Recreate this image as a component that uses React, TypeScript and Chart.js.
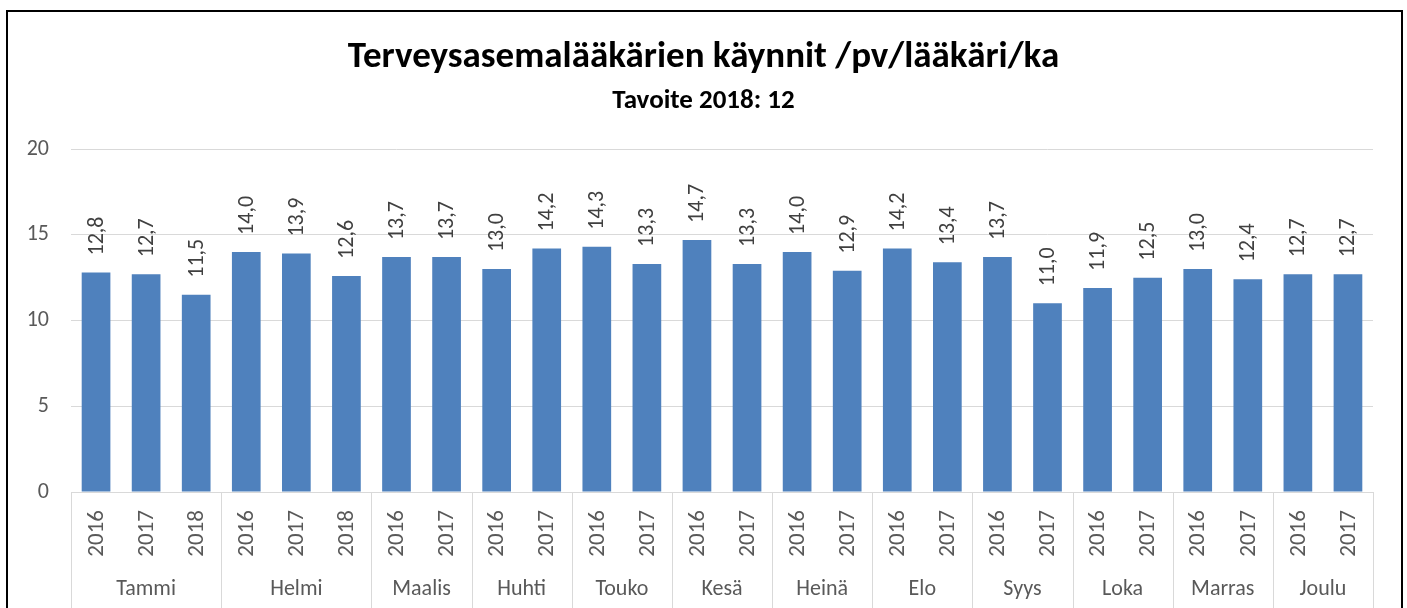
import React, { useEffect, useRef } from 'react';
import { Chart, registerables } from 'chart.js';

Chart.register(...registerables);

const titleText = 'Terveysasemalääkärien käynnit /pv/lääkäri/ka';
const subtitleText = 'Tavoite 2018: 12';
const months = ['Tammi', 'Helmi', 'Maalis', 'Huhti', 'Touko', 'Kesä', 'Heinä', 'Elo', 'Syys', 'Loka', 'Marras', 'Joulu'];
const yearsPerMonth = [
  ['2016', '2017', '2018'],
  ['2016', '2017', '2018'],
  ['2016', '2017'],
  ['2016', '2017'],
  ['2016', '2017'],
  ['2016', '2017'],
  ['2016', '2017'],
  ['2016', '2017'],
  ['2016', '2017'],
  ['2016', '2017'],
  ['2016', '2017'],
  ['2016', '2017'],
];
const values = [
  12.8, 12.7, 11.5,
  14.0, 13.9, 12.6,
  13.7, 13.7,
  13.0, 14.2,
  14.3, 13.3,
  14.7, 13.3,
  14.0, 12.9,
  14.2, 13.4,
  13.7, 11.0,
  11.9, 12.5,
  13.0, 12.4,
  12.7, 12.7,
];
const yMin = 0;
const yMax = 20;
const yStep = 5;

const FONT = "Carlito, Calibri, Lato, 'Open Sans', sans-serif";
const BAR = '#4f81bd';
const GRID = '#d9d9d9';
const TEXT = '#595959';
const LABEL = '#404040';

const W = 1407;
const H = 608;

const fmt = (v: number) => v.toFixed(1).replace('.', ',');

const decorPlugin = {
  id: 'decor',
  beforeDraw(chart: any) {
    const ctx = chart.ctx;
    ctx.save();
    ctx.fillStyle = '#ffffff';
    ctx.fillRect(0, 0, chart.width, chart.height);
    ctx.restore();
  },
  afterDraw(chart: any) {
    const ctx = chart.ctx;
    const area = chart.chartArea;
    const x = chart.scales.x;
    ctx.save();

    // frame
    ctx.strokeStyle = '#000000';
    ctx.lineWidth = 2;
    ctx.strokeRect(7, 11, 1395, 700);

    // titles
    ctx.fillStyle = '#000000';
    ctx.textAlign = 'center';
    ctx.textBaseline = 'alphabetic';
    ctx.font = `bold 37px ${FONT}`;
    ctx.fillText(titleText, W / 2, 67);
    ctx.font = `bold 27px ${FONT}`;
    ctx.fillText(subtitleText, W / 2, 108);

    // separators and labels on the category axis
    const labels: string[] = chart.data.labels;
    ctx.strokeStyle = GRID;
    ctx.lineWidth = 1;
    let idx = 0;
    const bounds: number[] = [idx];
    yearsPerMonth.forEach((g) => {
      idx += g.length;
      bounds.push(idx);
    });
    bounds.forEach((b) => {
      const px = Math.round(x.getPixelForValue(b - 0.5)) + 0.5;
      ctx.beginPath();
      ctx.moveTo(px, area.bottom);
      ctx.lineTo(px, H);
      ctx.stroke();
    });

    ctx.fillStyle = TEXT;
    ctx.font = `23px ${FONT}`;
    labels.forEach((lab, i) => {
      const px = x.getPixelForValue(i);
      ctx.save();
      ctx.translate(px, area.bottom + 18);
      ctx.rotate(-Math.PI / 2);
      ctx.textAlign = 'right';
      ctx.textBaseline = 'middle';
      ctx.fillText(lab, 0, 1);
      ctx.restore();
    });

    ctx.font = `22px ${FONT}`;
    ctx.textAlign = 'center';
    ctx.textBaseline = 'middle';
    months.forEach((m, gi) => {
      const cx = (x.getPixelForValue(bounds[gi] - 0.5) + x.getPixelForValue(bounds[gi + 1] - 0.5)) / 2;
      ctx.fillText(m, cx, 589);
    });

    // data labels
    const meta = chart.getDatasetMeta(0);
    ctx.fillStyle = LABEL;
    ctx.font = `22px ${FONT}`;
    meta.data.forEach((el: any, i: number) => {
      ctx.save();
      ctx.translate(el.x, el.y - 17);
      ctx.rotate(-Math.PI / 2);
      ctx.textAlign = 'left';
      ctx.textBaseline = 'middle';
      ctx.fillText(fmt(values[i]), 0, 1);
      ctx.restore();
    });

    ctx.restore();
  },
};

export default function App() {
  const ref = useRef<HTMLCanvasElement | null>(null);

  useEffect(() => {
    if (!ref.current) return;
    const labels = yearsPerMonth.flat();
    const chart = new Chart(ref.current, {
      type: 'bar',
      data: {
        labels,
        datasets: [
          {
            data: values,
            backgroundColor: BAR,
            borderWidth: 0,
            barPercentage: 0.573,
            categoryPercentage: 1,
          },
        ],
      },
      options: {
        animation: false,
        responsive: false,
        devicePixelRatio: 1,
        layout: { padding: { left: 0, right: W - 1373, top: 149, bottom: 0 } },
        plugins: {
          legend: { display: false },
          tooltip: { enabled: false },
          title: { display: false },
        },
        scales: {
          x: {
            type: 'category',
            grid: { display: false },
            border: { display: true, color: GRID },
            ticks: { display: false },
            afterFit(scale: any) {
              scale.height = H - 492;
            },
          },
          y: {
            min: yMin,
            max: yMax,
            ticks: {
              stepSize: yStep,
              color: TEXT,
              padding: 22,
              font: { family: FONT, size: 22 },
            },
            grid: { color: GRID, drawTicks: false, lineWidth: 1 },
            border: { display: false },
            afterFit(scale: any) {
              scale.width = 71;
            },
          },
        },
      },
      plugins: [decorPlugin],
    });
    return () => chart.destroy();
  }, []);

  return (
    <div style={{ position: 'fixed', left: 0, top: 0, width: W, height: H, background: '#fff' }}>
      <canvas ref={ref} width={W} height={H} style={{ display: 'block', width: W, height: H }} />
    </div>
  );
}
